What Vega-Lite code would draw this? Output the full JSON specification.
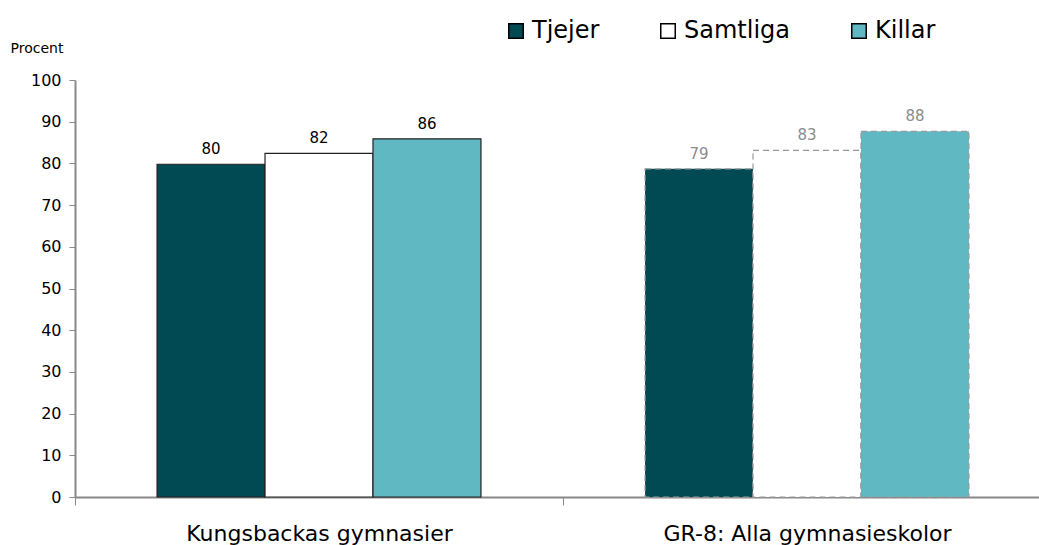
{
  "$schema": "https://vega.github.io/schema/vega-lite/v6.json",
  "width": 976,
  "height": 417,
  "autosize": {"type": "none"},
  "padding": {"left": 75, "top": 80, "right": 0, "bottom": 48},
  "background": "white",
  "config": {
    "font": "DejaVu Sans",
    "view": {"stroke": null}
  },
  "data": {
    "values": [
      {"grupp": "Kungsbackas gymnasier", "kon": "Tjejer", "procent": 79.8, "etikett": "80"},
      {"grupp": "Kungsbackas gymnasier", "kon": "Samtliga", "procent": 82.4, "etikett": "82"},
      {"grupp": "Kungsbackas gymnasier", "kon": "Killar", "procent": 85.9, "etikett": "86"},
      {"grupp": "GR-8: Alla gymnasieskolor", "kon": "Tjejer", "procent": 78.7, "etikett": "79"},
      {"grupp": "GR-8: Alla gymnasieskolor", "kon": "Samtliga", "procent": 83.1, "etikett": "83"},
      {"grupp": "GR-8: Alla gymnasieskolor", "kon": "Killar", "procent": 87.7, "etikett": "88"}
    ]
  },
  "encoding": {
    "x": {
      "field": "grupp",
      "type": "nominal",
      "sort": ["Kungsbackas gymnasier", "GR-8: Alla gymnasieskolor"],
      "scale": {"paddingInner": 0, "paddingOuter": 0},
      "axis": {
        "title": null,
        "labelAngle": 0,
        "labelFontSize": 22,
        "labelColor": "#000",
        "labelPadding": 18,
        "labelLimit": 0,
        "domainColor": "#888",
        "domainWidth": 2,
        "tickColor": "#888",
        "tickSize": 8,
        "tickBand": "extent"
      }
    },
    "xOffset": {
      "field": "kon",
      "type": "nominal",
      "sort": ["Tjejer", "Samtliga", "Killar"],
      "scale": {"paddingInner": 0, "paddingOuter": 0.76}
    },
    "y": {
      "field": "procent",
      "type": "quantitative",
      "scale": {"domain": [0, 100], "nice": false},
      "axis": {
        "title": "Procent",
        "titleAngle": 0,
        "titleAlign": "left",
        "titleBaseline": "middle",
        "titleX": -65,
        "titleY": -32,
        "titleFontSize": 14,
        "titleFontWeight": "normal",
        "titleColor": "#000",
        "values": [0, 10, 20, 30, 40, 50, 60, 70, 80, 90, 100],
        "grid": false,
        "labelFontSize": 16,
        "labelColor": "#000",
        "labelPadding": 8,
        "domainColor": "#888",
        "domainWidth": 2,
        "tickColor": "#888",
        "tickSize": 6
      }
    }
  },
  "layer": [
    {
      "mark": {"type": "bar", "strokeWidth": 1.2},
      "encoding": {
        "fill": {
          "field": "kon",
          "type": "nominal",
          "sort": ["Tjejer", "Samtliga", "Killar"],
          "scale": {"domain": ["Tjejer", "Samtliga", "Killar"], "range": ["#014A54", "#FFFFFF", "#5FB8C2"]},
          "legend": {
            "title": null,
            "orient": "none",
            "legendX": 429,
            "legendY": -61,
            "direction": "horizontal",
            "symbolType": "square",
            "symbolSize": 210,
            "symbolStrokeColor": "#000",
            "symbolStrokeWidth": 1.5,
            "symbolOpacity": 1,
            "labelFontSize": 24,
            "labelColor": "#000",
            "labelOffset": 4,
            "columnPadding": 56
          }
        },
        "stroke": {
          "condition": {"test": "datum.grupp === 'GR-8: Alla gymnasieskolor'", "value": "#999999"},
          "value": "#222222"
        },
        "strokeDash": {
          "field": "grupp",
          "type": "nominal",
          "scale": {"domain": ["Kungsbackas gymnasier", "GR-8: Alla gymnasieskolor"], "range": [[1, 0], [6, 4]]},
          "legend": null
        }
      }
    },
    {
      "mark": {"type": "text", "dy": -15, "fontSize": 15},
      "encoding": {
        "text": {"field": "etikett"},
        "color": {
          "condition": {"test": "datum.grupp === 'GR-8: Alla gymnasieskolor'", "value": "#8c8c8c"},
          "value": "#000000"
        }
      }
    }
  ]
}
